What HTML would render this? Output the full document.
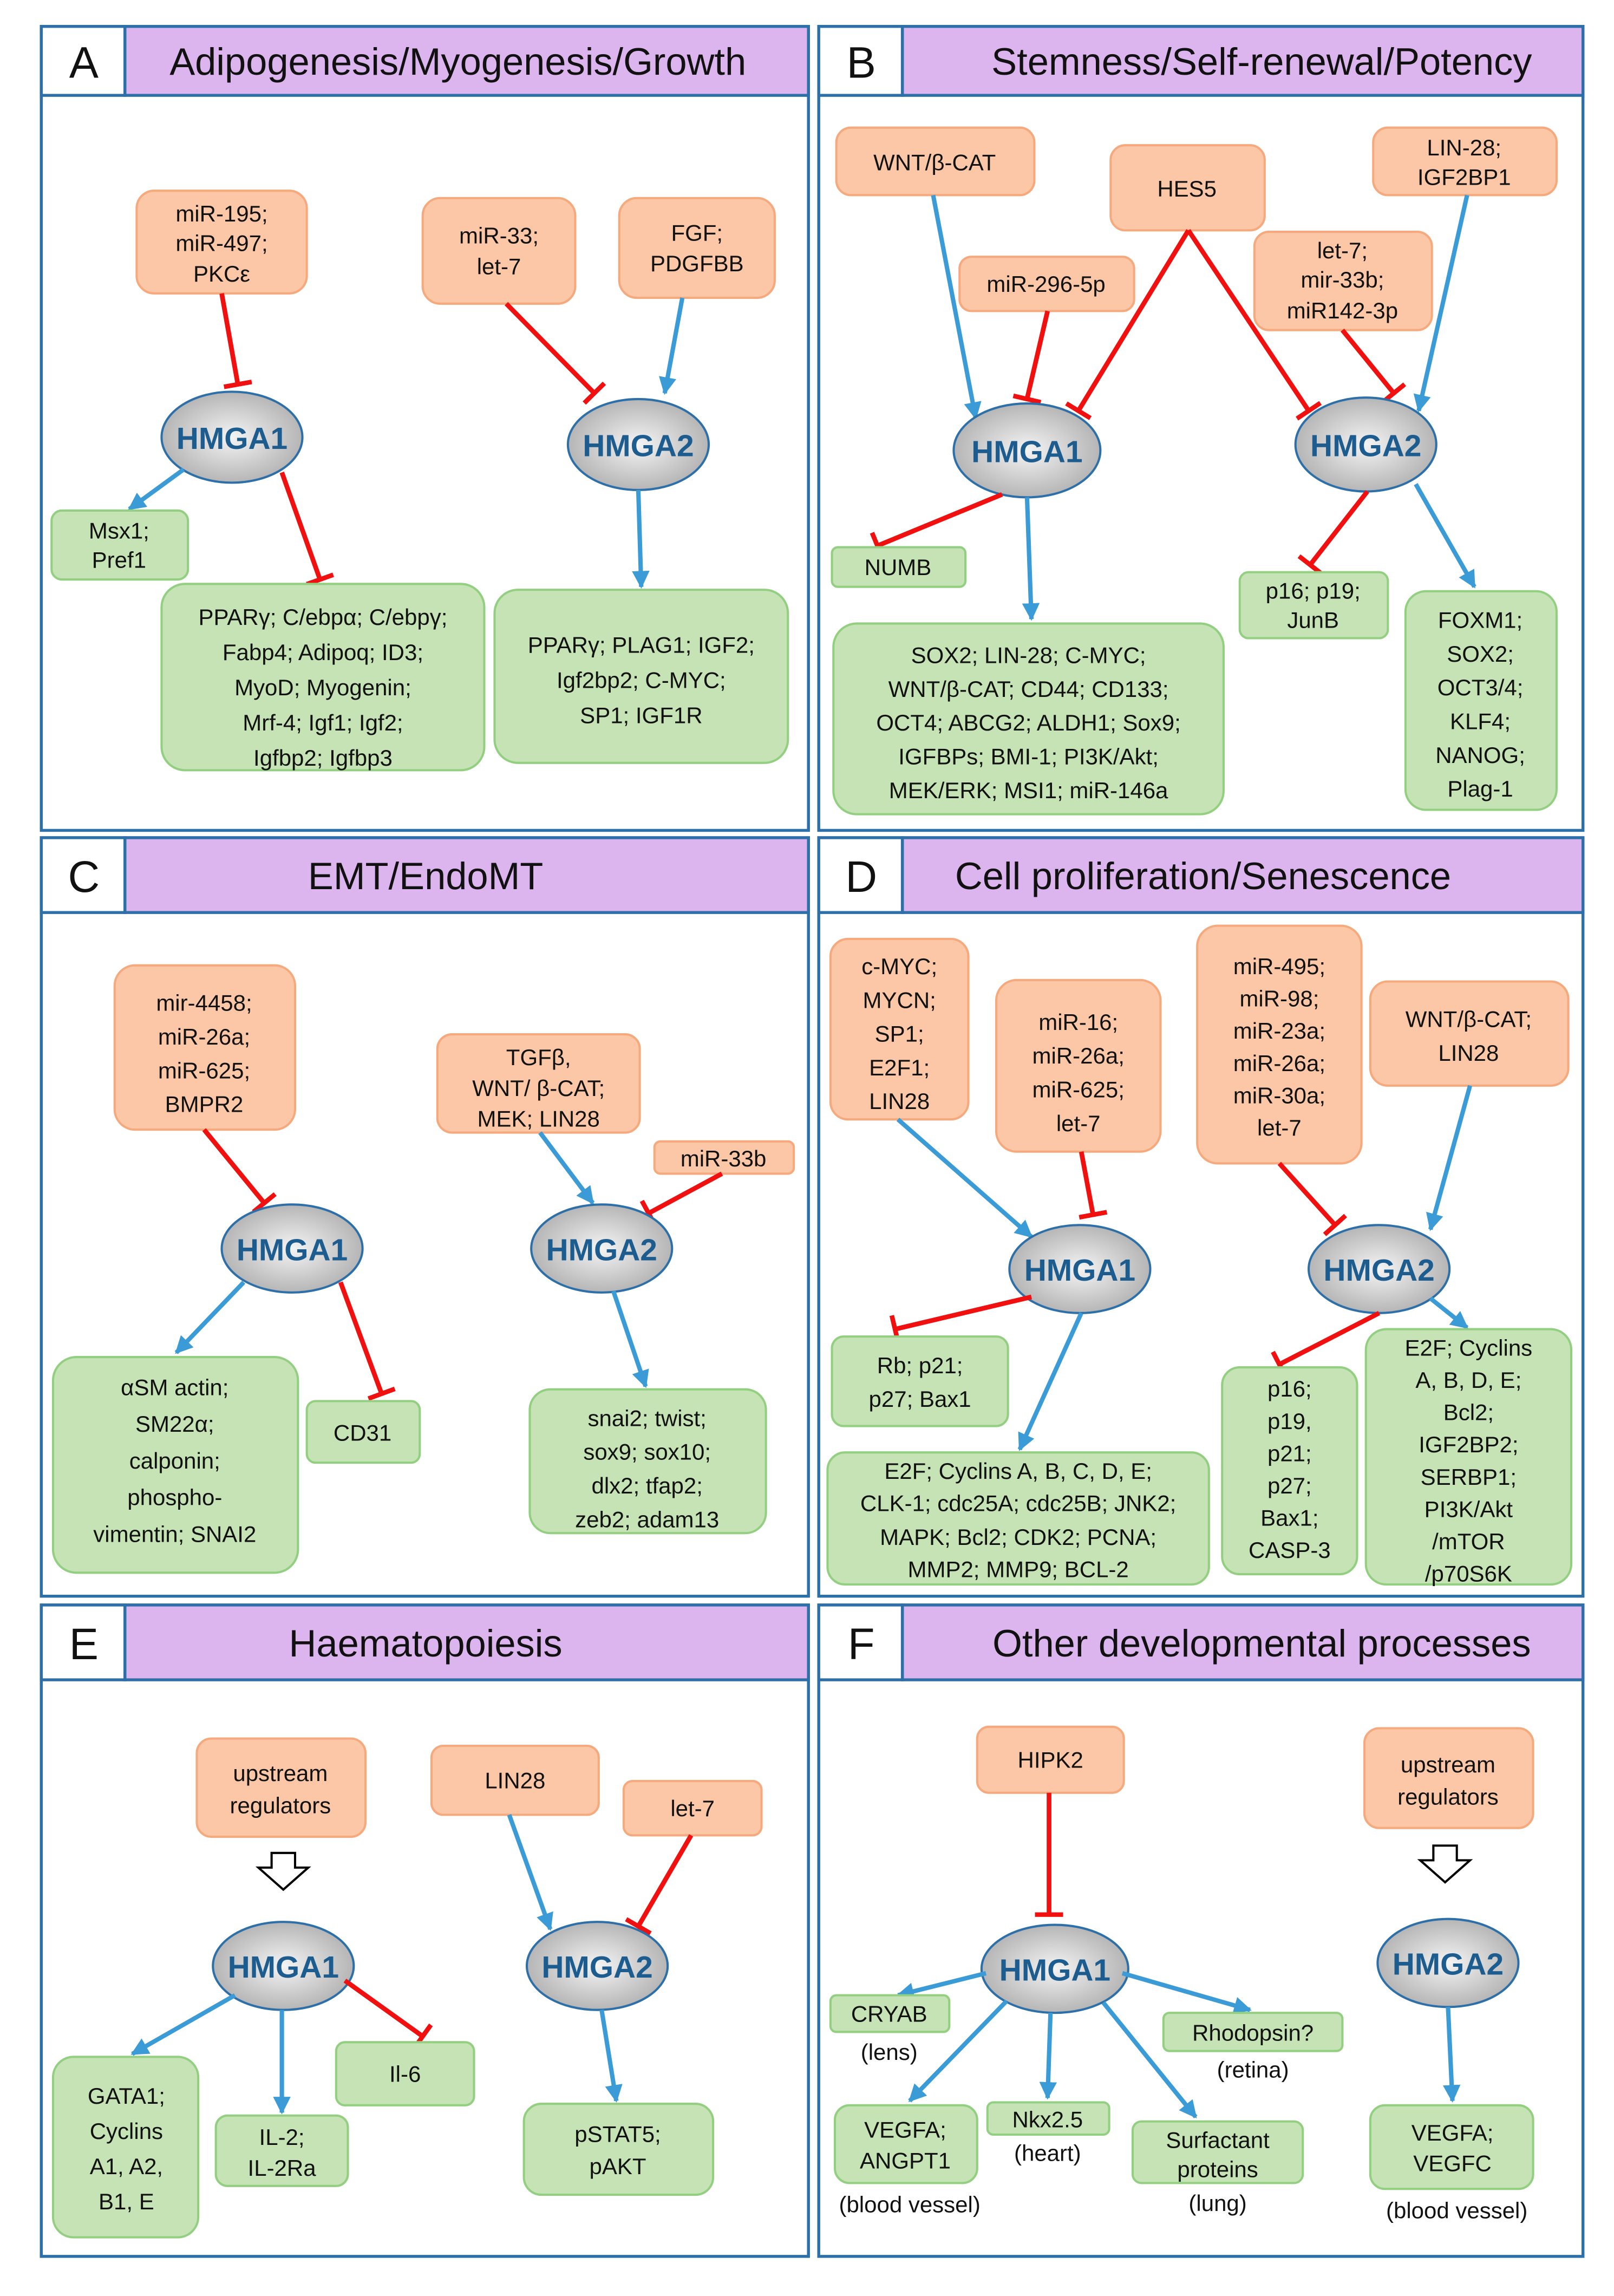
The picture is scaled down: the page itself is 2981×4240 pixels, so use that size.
<!DOCTYPE html>
<html><head><meta charset="utf-8"><style>
html,body{margin:0;padding:0;background:#fff;}
svg{display:block;}
text{font-family:"Liberation Sans",sans-serif;}
.o{fill:#fbc7a6;stroke:#f5a97c;stroke-width:1.5;}
.g{fill:#c5e3b4;stroke:#93cf80;stroke-width:1.5;}
.t{font-size:15.5px;fill:#111;text-anchor:middle;}
.h{font-size:21px;font-weight:bold;fill:#1d5c8e;text-anchor:middle;}
.hd{font-size:26px;fill:#111;text-anchor:middle;}
.L{font-size:30px;fill:#111;text-anchor:middle;}
.b{stroke:#3b9bd6;stroke-width:3;fill:none;marker-end:url(#ar);}
.r{stroke:#f01010;stroke-width:3.2;fill:none;marker-end:url(#tb);}
.p{fill:#fff;stroke:#2d6fa8;stroke-width:2;}
.hp{fill:#dcb5ee;stroke:#2d6fa8;stroke-width:2;}
.e{fill:url(#eg);stroke:#2d6fa8;stroke-width:1.5;}
</style></head><body>
<svg width="2981" height="4240" viewBox="0 0 1100 1565" xmlns="http://www.w3.org/2000/svg">
<defs>
<marker id="ar" viewBox="0 0 10 10" refX="9" refY="5" markerWidth="4" markerHeight="4" orient="auto" markerUnits="strokeWidth"><path d="M0,0 L10,5 L0,10 z" fill="#3b9bd6"/></marker>
<marker id="tb" viewBox="0 -6 2 12" refX="1" refY="0" markerWidth="1" markerHeight="8" orient="auto" markerUnits="strokeWidth"><path d="M1,-6 L1,6" stroke="#f01010" stroke-width="2"/></marker>
<radialGradient id="eg" cx="50%" cy="50%" r="60%"><stop offset="0" stop-color="#f4f4f4"/><stop offset="1" stop-color="#a9a9a9"/></radialGradient>
</defs>

<!-- Panels -->
<rect class="p" x="28" y="18" width="523" height="548"/>
<rect class="hp" x="85" y="18" width="466" height="47"/><rect class="p" x="28" y="18" width="57" height="47"/>
<text class="L" x="57" y="53">A</text><text class="hd" x="312" y="51">Adipogenesis/Myogenesis/Growth</text>

<rect class="p" x="558" y="18" width="521" height="548"/>
<rect class="hp" x="615" y="18" width="464" height="47"/><rect class="p" x="558" y="18" width="57" height="47"/>
<text class="L" x="587" y="53">B</text><text class="hd" x="860" y="51">Stemness/Self-renewal/Potency</text>

<rect class="p" x="28" y="571" width="523" height="517"/>
<rect class="hp" x="85" y="571" width="466" height="51"/><rect class="p" x="28" y="571" width="57" height="51"/>
<text class="L" x="57" y="608">C</text><text class="hd" x="290" y="606">EMT/EndoMT</text>

<rect class="p" x="558" y="571" width="521" height="517"/>
<rect class="hp" x="615" y="571" width="464" height="51"/><rect class="p" x="558" y="571" width="57" height="51"/>
<text class="L" x="587" y="608">D</text><text class="hd" x="820" y="606">Cell proliferation/Senescence</text>

<rect class="p" x="28" y="1094" width="523" height="444"/>
<rect class="hp" x="85" y="1094" width="466" height="51"/><rect class="p" x="28" y="1094" width="57" height="51"/>
<text class="L" x="57" y="1131">E</text><text class="hd" x="290" y="1129">Haematopoiesis</text>

<rect class="p" x="558" y="1094" width="521" height="444"/>
<rect class="hp" x="615" y="1094" width="464" height="51"/><rect class="p" x="558" y="1094" width="57" height="51"/>
<text class="L" x="587" y="1131">F</text><text class="hd" x="860" y="1129">Other developmental processes</text>

<!-- Panel A -->
<rect class="o" x="93" y="130" width="116" height="70" rx="12"/>
<text class="t" x="151" y="151">miR-195;</text><text class="t" x="151" y="171">miR-497;</text><text class="t" x="151" y="192">PKCε</text>
<rect class="o" x="288" y="135" width="104" height="72" rx="12"/>
<text class="t" x="340" y="166">miR-33;</text><text class="t" x="340" y="187">let-7</text>
<rect class="o" x="422" y="135" width="106" height="68" rx="12"/>
<text class="t" x="475" y="164">FGF;</text><text class="t" x="475" y="185">PDGFBB</text>
<path class="r" d="M151,200 L162,262"/>
<path class="r" d="M345,207 L405,268"/>
<path class="b" d="M465,203 L453,268"/>
<ellipse class="e" cx="158" cy="298" rx="48" ry="31"/><text class="h" x="158" y="306">HMGA1</text>
<ellipse class="e" cx="435" cy="303" rx="48" ry="31"/><text class="h" x="435" y="311">HMGA2</text>
<path class="b" d="M125,320 L88,347"/>
<rect class="g" x="35" y="348" width="93" height="47" rx="7"/>
<text class="t" x="81" y="367">Msx1;</text><text class="t" x="81" y="387">Pref1</text>
<path class="r" d="M192,322 L218,395"/>
<rect class="g" x="110" y="398" width="220" height="127" rx="16"/>
<text class="t" x="220" y="426">PPARγ; C/ebpα; C/ebpγ;</text><text class="t" x="220" y="450">Fabp4; Adipoq; ID3;</text><text class="t" x="220" y="474">MyoD; Myogenin;</text><text class="t" x="220" y="498">Mrf-4; Igf1; Igf2;</text><text class="t" x="220" y="522">Igfbp2; Igfbp3</text>
<path class="b" d="M435,334 L437,400"/>
<rect class="g" x="337" y="402" width="200" height="118" rx="16"/>
<text class="t" x="437" y="445">PPARγ; PLAG1; IGF2;</text><text class="t" x="437" y="469">Igf2bp2; C-MYC;</text><text class="t" x="437" y="493">SP1; IGF1R</text>

<!-- Panel B -->
<rect class="o" x="570" y="87" width="135" height="46" rx="10"/><text class="t" x="637" y="116">WNT/β-CAT</text>
<rect class="o" x="757" y="99" width="105" height="58" rx="10"/><text class="t" x="809" y="134">HES5</text>
<rect class="o" x="936" y="87" width="125" height="46" rx="10"/><text class="t" x="998" y="106">LIN-28;</text><text class="t" x="998" y="126">IGF2BP1</text>
<rect class="o" x="654" y="175" width="119" height="37" rx="8"/><text class="t" x="713" y="199">miR-296-5p</text>
<rect class="o" x="855" y="158" width="121" height="67" rx="10"/>
<text class="t" x="915" y="176">let-7;</text><text class="t" x="915" y="196">mir-33b;</text><text class="t" x="915" y="217">miR142-3p</text>
<path class="b" d="M636,133 L665,285"/>
<path class="r" d="M714,212 L700,272"/>
<path class="r" d="M810,157 L735,280"/>
<path class="r" d="M810,157 L892,280"/>
<path class="r" d="M915,225 L950,268"/>
<path class="b" d="M1000,133 L967,280"/>
<ellipse class="e" cx="700" cy="307" rx="50" ry="32"/><text class="h" x="700" y="315">HMGA1</text>
<ellipse class="e" cx="931" cy="303" rx="48" ry="32"/><text class="h" x="931" y="311">HMGA2</text>
<path class="r" d="M683,337 L598,372"/>
<rect class="g" x="567" y="373" width="91" height="27" rx="4"/><text class="t" x="612" y="392">NUMB</text>
<path class="b" d="M700,339 L703,422"/>
<rect class="g" x="568" y="425" width="266" height="130" rx="16"/>
<text class="t" x="701" y="452">SOX2; LIN-28; C-MYC;</text><text class="t" x="701" y="475">WNT/β-CAT; CD44; CD133;</text><text class="t" x="701" y="498">OCT4; ABCG2; ALDH1; Sox9;</text><text class="t" x="701" y="521">IGFBPs; BMI-1; PI3K/Akt;</text><text class="t" x="701" y="544">MEK/ERK; MSI1; miR-146a</text>
<path class="r" d="M932,335 L893,385"/>
<rect class="g" x="845" y="390" width="101" height="45" rx="6"/>
<text class="t" x="895" y="408">p16; p19;</text><text class="t" x="895" y="428">JunB</text>
<path class="b" d="M965,330 L1005,400"/>
<rect class="g" x="958" y="403" width="103" height="149" rx="14"/>
<text class="t" x="1009" y="428">FOXM1;</text><text class="t" x="1009" y="451">SOX2;</text><text class="t" x="1009" y="474">OCT3/4;</text><text class="t" x="1009" y="497">KLF4;</text><text class="t" x="1009" y="520">NANOG;</text><text class="t" x="1009" y="543">Plag-1</text>

<!-- Panel C -->
<rect class="o" x="78" y="658" width="123" height="112" rx="14"/>
<text class="t" x="139" y="689">mir-4458;</text><text class="t" x="139" y="712">miR-26a;</text><text class="t" x="139" y="735">miR-625;</text><text class="t" x="139" y="758">BMPR2</text>
<rect class="o" x="298" y="705" width="138" height="67" rx="10"/>
<text class="t" x="367" y="726">TGFβ,</text><text class="t" x="367" y="747">WNT/ β-CAT;</text><text class="t" x="367" y="768">MEK; LIN28</text>
<rect class="o" x="446" y="778" width="95" height="22" rx="4"/><text class="t" x="493" y="795">miR-33b</text>
<path class="r" d="M139,770 L180,820"/>
<path class="b" d="M368,772 L404,820"/>
<path class="r" d="M492,800 L442,827"/>
<ellipse class="e" cx="199" cy="851" rx="48" ry="30"/><text class="h" x="199" y="859">HMGA1</text>
<ellipse class="e" cx="410" cy="851" rx="48" ry="30"/><text class="h" x="410" y="859">HMGA2</text>
<path class="b" d="M166,874 L120,922"/>
<rect class="g" x="36" y="925" width="167" height="147" rx="16"/>
<text class="t" x="119" y="951">αSM actin;</text><text class="t" x="119" y="976">SM22α;</text><text class="t" x="119" y="1001">calponin;</text><text class="t" x="119" y="1026">phospho-</text><text class="t" x="119" y="1051">vimentin; SNAI2</text>
<path class="r" d="M232,874 L260,950"/>
<rect class="g" x="209" y="955" width="77" height="42" rx="6"/><text class="t" x="247" y="982">CD31</text>
<path class="b" d="M418,880 L440,945"/>
<rect class="g" x="361" y="947" width="161" height="98" rx="14"/>
<text class="t" x="441" y="972">snai2; twist;</text><text class="t" x="441" y="995">sox9; sox10;</text><text class="t" x="441" y="1018">dlx2; tfap2;</text><text class="t" x="441" y="1041">zeb2; adam13</text>

<!-- Panel D -->
<rect class="o" x="566" y="640" width="94" height="123" rx="12"/>
<text class="t" x="613" y="664">c-MYC;</text><text class="t" x="613" y="687">MYCN;</text><text class="t" x="613" y="710">SP1;</text><text class="t" x="613" y="733">E2F1;</text><text class="t" x="613" y="756">LIN28</text>
<rect class="o" x="679" y="668" width="112" height="117" rx="14"/>
<text class="t" x="735" y="702">miR-16;</text><text class="t" x="735" y="725">miR-26a;</text><text class="t" x="735" y="748">miR-625;</text><text class="t" x="735" y="771">let-7</text>
<rect class="o" x="816" y="631" width="112" height="162" rx="14"/>
<text class="t" x="872" y="664">miR-495;</text><text class="t" x="872" y="686">miR-98;</text><text class="t" x="872" y="708">miR-23a;</text><text class="t" x="872" y="730">miR-26a;</text><text class="t" x="872" y="752">miR-30a;</text><text class="t" x="872" y="774">let-7</text>
<rect class="o" x="934" y="669" width="135" height="71" rx="12"/>
<text class="t" x="1001" y="700">WNT/β-CAT;</text><text class="t" x="1001" y="723">LIN28</text>
<path class="b" d="M612,763 L703,843"/>
<path class="r" d="M737,785 L745,828"/>
<path class="r" d="M872,793 L910,835"/>
<path class="b" d="M1002,740 L975,838"/>
<ellipse class="e" cx="736" cy="865" rx="48" ry="30"/><text class="h" x="736" y="873">HMGA1</text>
<ellipse class="e" cx="940" cy="865" rx="48" ry="30"/><text class="h" x="940" y="873">HMGA2</text>
<path class="r" d="M703,884 L610,906"/>
<rect class="g" x="567" y="911" width="120" height="61" rx="8"/>
<text class="t" x="627" y="936">Rb; p21;</text><text class="t" x="627" y="959">p27; Bax1</text>
<path class="b" d="M737,895 L695,988"/>
<rect class="g" x="564" y="990" width="260" height="90" rx="12"/>
<text class="t" x="694" y="1008">E2F; Cyclins A, B, C, D, E;</text><text class="t" x="694" y="1030">CLK-1; cdc25A; cdc25B; JNK2;</text><text class="t" x="694" y="1053">MAPK; Bcl2; CDK2; PCNA;</text><text class="t" x="694" y="1075">MMP2; MMP9; BCL-2</text>
<path class="r" d="M940,895 L872,930"/>
<rect class="g" x="833" y="932" width="92" height="141" rx="12"/>
<text class="t" x="879" y="952">p16;</text><text class="t" x="879" y="974">p19,</text><text class="t" x="879" y="996">p21;</text><text class="t" x="879" y="1018">p27;</text><text class="t" x="879" y="1040">Bax1;</text><text class="t" x="879" y="1062">CASP-3</text>
<path class="b" d="M975,885 L1000,905"/>
<rect class="g" x="931" y="906" width="140" height="174" rx="14"/>
<text class="t" x="1001" y="924">E2F;  Cyclins</text><text class="t" x="1001" y="946">A, B, D, E;</text><text class="t" x="1001" y="968">Bcl2;</text><text class="t" x="1001" y="990">IGF2BP2;</text><text class="t" x="1001" y="1012">SERBP1;</text><text class="t" x="1001" y="1034">PI3K/Akt</text><text class="t" x="1001" y="1056">/mTOR</text><text class="t" x="1001" y="1078">/p70S6K</text>

<!-- Panel E -->
<rect class="o" x="134" y="1185" width="115" height="67" rx="10"/>
<text class="t" x="191" y="1214">upstream</text><text class="t" x="191" y="1236">regulators</text>
<path d="M185,1263 L201,1263 L201,1273 L210,1273 L193,1288 L176,1273 L185,1273 Z" fill="#fff" stroke="#000" stroke-width="1.5"/>
<rect class="o" x="294" y="1190" width="114" height="47" rx="8"/><text class="t" x="351" y="1219">LIN28</text>
<rect class="o" x="425" y="1214" width="94" height="37" rx="6"/><text class="t" x="472" y="1238">let-7</text>
<path class="b" d="M347,1237 L375,1315"/>
<path class="r" d="M471,1251 L435,1313"/>
<ellipse class="e" cx="193" cy="1340" rx="48" ry="30"/><text class="h" x="193" y="1348">HMGA1</text>
<ellipse class="e" cx="407" cy="1340" rx="48" ry="30"/><text class="h" x="407" y="1348">HMGA2</text>
<path class="b" d="M160,1360 L90,1400"/>
<rect class="g" x="36" y="1402" width="99" height="123" rx="14"/>
<text class="t" x="86" y="1434">GATA1;</text><text class="t" x="86" y="1458">Cyclins</text><text class="t" x="86" y="1482">A1, A2,</text><text class="t" x="86" y="1506">B1, E</text>
<path class="b" d="M192,1370 L192,1440"/>
<rect class="g" x="147" y="1442" width="90" height="48" rx="8"/>
<text class="t" x="192" y="1462">IL-2;</text><text class="t" x="192" y="1483">IL-2Ra</text>
<path class="r" d="M235,1350 L288,1388"/>
<rect class="g" x="229" y="1392" width="94" height="43" rx="6"/><text class="t" x="276" y="1419">Il-6</text>
<path class="b" d="M410,1370 L420,1432"/>
<rect class="g" x="357" y="1434" width="129" height="62" rx="12"/>
<text class="t" x="421" y="1460">pSTAT5;</text><text class="t" x="421" y="1482">pAKT</text>

<!-- Panel F -->
<rect class="o" x="666" y="1177" width="100" height="45" rx="8"/><text class="t" x="716" y="1205">HIPK2</text>
<path class="r" d="M715,1222 L715,1305"/>
<rect class="o" x="930" y="1178" width="115" height="68" rx="10"/>
<text class="t" x="987" y="1208">upstream</text><text class="t" x="987" y="1230">regulators</text>
<path d="M977,1258 L993,1258 L993,1268 L1002,1268 L985,1283 L968,1268 L977,1268 Z" fill="#fff" stroke="#000" stroke-width="1.5"/>
<ellipse class="e" cx="719" cy="1342" rx="50" ry="30"/><text class="h" x="719" y="1350">HMGA1</text>
<ellipse class="e" cx="987" cy="1338" rx="48" ry="30"/><text class="h" x="987" y="1346">HMGA2</text>
<path class="b" d="M987,1368 L990,1432"/>
<rect class="g" x="934" y="1435" width="111" height="57" rx="10"/>
<text class="t" x="990" y="1459">VEGFA;</text><text class="t" x="990" y="1480">VEGFC</text>
<text class="t" x="993" y="1512">(blood vessel)</text>
<path class="b" d="M672,1345 L612,1360"/>
<rect class="g" x="566" y="1360" width="81" height="25" rx="4"/><text class="t" x="606" y="1378">CRYAB</text>
<text class="t" x="606" y="1404">(lens)</text>
<path class="b" d="M765,1345 L852,1370"/>
<rect class="g" x="793" y="1372" width="122" height="26" rx="4"/><text class="t" x="854" y="1391">Rhodopsin?</text>
<text class="t" x="854" y="1416">(retina)</text>
<path class="b" d="M686,1364 L620,1432"/>
<rect class="g" x="569" y="1435" width="97" height="53" rx="10"/>
<text class="t" x="617" y="1457">VEGFA;</text><text class="t" x="617" y="1478">ANGPT1</text>
<text class="t" x="620" y="1508">(blood vessel)</text>
<path class="b" d="M716,1372 L714,1430"/>
<rect class="g" x="673" y="1433" width="83" height="22" rx="4"/><text class="t" x="714" y="1450">Nkx2.5</text>
<text class="t" x="714" y="1473">(heart)</text>
<path class="b" d="M752,1365 L815,1443"/>
<rect class="g" x="772" y="1446" width="116" height="42" rx="6"/>
<text class="t" x="830" y="1464">Surfactant</text><text class="t" x="830" y="1484">proteins</text>
<text class="t" x="830" y="1507">(lung)</text>
</svg>
</body></html>
